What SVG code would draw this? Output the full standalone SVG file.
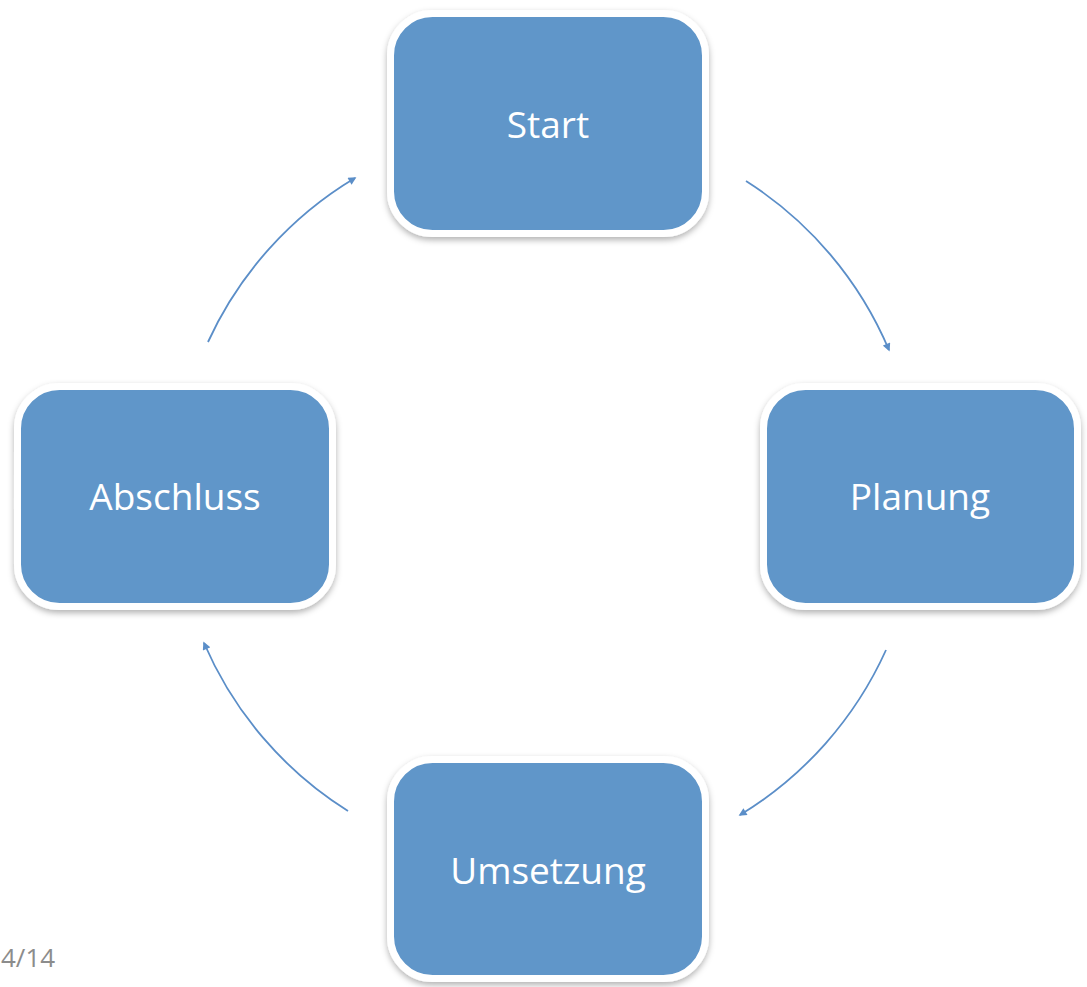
<svg xmlns="http://www.w3.org/2000/svg" width="1087" height="987" viewBox="0 0 1087 987">
<style>
.box{fill:#6096C9;stroke:#FFFFFF;stroke-width:7;filter:url(#sh)}
.lbl{font-family:"Open Sans","Liberation Sans",sans-serif;font-size:37px;fill:#FFFFFF;text-anchor:middle}
.con{fill:none;stroke:#5B8EC8;stroke-width:1.8;marker-end:url(#ah)}
.pg{font-family:"Open Sans","Liberation Sans",sans-serif;font-size:26px;fill:#8C8C8C}
</style>
<defs>
<filter id="sh" x="-10%" y="-10%" width="120%" height="125%">
<feDropShadow dx="0" dy="3" stdDeviation="3" flood-color="#000000" flood-opacity="0.3"/>
</filter>
<marker id="ah" viewBox="0 0 10 10" refX="8" refY="5" markerWidth="9" markerHeight="8" markerUnits="userSpaceOnUse" orient="auto">
<path d="M0,0 L10,5 L0,10 Z" fill="#5B8EC8"/>
</marker>
</defs>
<rect width="1087" height="987" fill="#FFFFFF"/>
<g id="connectors">
<path class="con" d="M746,181 A372,372 0 0 1 889,350"/>
<path class="con" d="M886,650 A372,372 0 0 1 740,815"/>
<path class="con" d="M348,811 A372,372 0 0 1 204,643"/>
<path class="con" d="M208,342 A372,372 0 0 1 355,178"/>
</g>
<g id="start">
<rect class="box" x="390.5" y="13.5" width="315" height="220" rx="42"/>
<text class="lbl" x="548" y="138">Start</text>
</g>
<g id="planung">
<rect class="box" x="763.5" y="386.5" width="314" height="220" rx="42"/>
<text class="lbl" x="920" y="510">Planung</text>
</g>
<g id="umsetzung">
<rect class="box" x="390.5" y="759.5" width="315" height="219" rx="42"/>
<text class="lbl" x="548" y="884">Umsetzung</text>
</g>
<g id="abschluss">
<rect class="box" x="17.5" y="386.5" width="315" height="220" rx="42"/>
<text class="lbl" x="175" y="510">Abschluss</text>
</g>
<text class="pg" x="1" y="967">4/14</text>
</svg>
